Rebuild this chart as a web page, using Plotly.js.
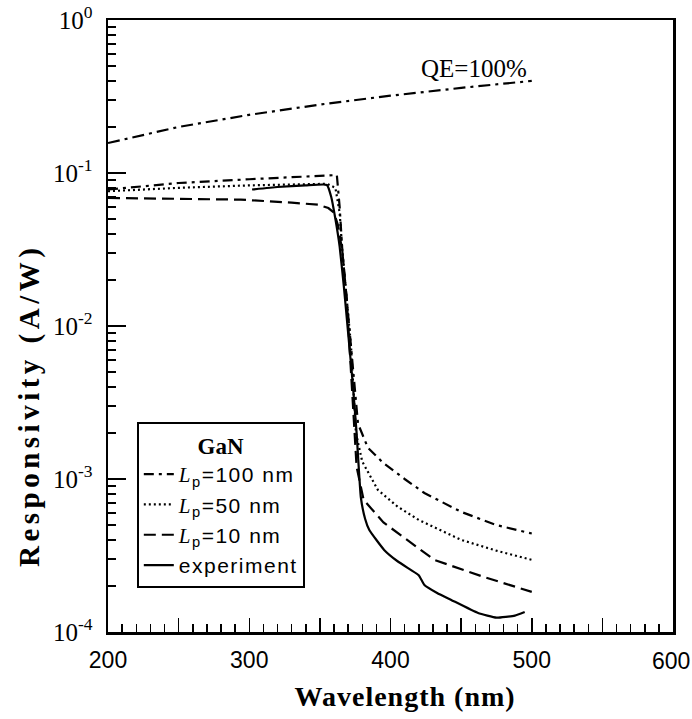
<!DOCTYPE html>
<html>
<head>
<meta charset="utf-8">
<script src="https://cdn.plot.ly/plotly-3.0.1.min.js"></script>
<style>
html,body{margin:0;padding:0;background:#fff;}
#chart{width:692px;height:719px;}
.legendtext{letter-spacing:1.5px;}
</style>
</head>
<body>
<div id="chart"></div>
<script>
// Quantum efficiency = 100% reference line
const qeWavelength = [200, 250, 300, 350, 400, 450, 500];
const qeResp = [0.157, 0.200, 0.240, 0.280, 0.320, 0.360, 0.400];

// Lp = 100 nm (dash-dot)
const lp100Wavelength = [200, 225, 250, 300, 340, 362, 364, 366, 369, 372, 375, 377, 384, 395, 410, 424, 450, 475, 500];
const lp100Resp = [0.078, 0.082, 0.086, 0.091, 0.095, 0.097, 0.060, 0.030, 0.015, 0.0075, 0.0035, 0.0023, 0.0016, 0.00127, 0.0010, 0.00081, 0.00061, 0.00050, 0.00044];

// Lp = 50 nm (dotted)
const lp50Wavelength = [200, 250, 300, 355, 361, 364, 366, 369, 372, 375.5, 380, 391, 405, 420, 450, 475, 500];
const lp50Resp = [0.076, 0.080, 0.083, 0.085, 0.080, 0.055, 0.030, 0.015, 0.0075, 0.0020, 0.0013, 0.00085, 0.00066, 0.00054, 0.00040, 0.00034, 0.000296];

// Lp = 10 nm (dashed)
const lp10Wavelength = [200, 250, 294, 330, 349, 356, 360, 363, 366, 369, 372, 374, 376, 381, 395, 431, 466, 500];
const lp10Resp = [0.0687, 0.068, 0.067, 0.064, 0.062, 0.059, 0.055, 0.045, 0.030, 0.015, 0.0050, 0.0022, 0.0012, 0.00073, 0.00052, 0.000296, 0.000229, 0.000183];

// Experiment (solid)
const expWavelength = [302, 320, 340, 355, 358, 361, 364, 367, 370, 373, 376, 379, 382, 385, 395.5, 405, 414.6, 420, 424, 433, 443, 462, 475, 488, 495];
const expResp = [0.078, 0.081, 0.083, 0.0835, 0.070, 0.050, 0.033, 0.018, 0.009, 0.0045, 0.0020, 0.00076, 0.00055, 0.000464, 0.000344, 0.00029, 0.000254, 0.000235, 0.000203, 0.00018, 0.000162, 0.000133, 0.000124, 0.000128, 0.000135];

// Axis ticks
const xTickVals = [200, 250, 300, 350, 400, 450, 500, 550, 600];
const xTickText = ["200", "", "300", "", "400", "", "500", "", ""];
const xEdgeLabel = "600";
const yTickVals = [1e-4, 1e-3, 1e-2, 1e-1, 1];
const yTickText = ["10<sup>-4</sup>", "10<sup>-3</sup>", "10<sup>-2</sup>", "10<sup>-1</sup>", "10<sup>0</sup>"];

const serif = '"Liberation Serif", "Times New Roman", serif';
const sans = '"Liberation Sans", Arial, sans-serif';
const Lsub = (v) => '<span style="font-family:Liberation Serif"><i>L</i></span><sub>p</sub>=' + v + ' nm';

const traces = [
  {x: qeWavelength, y: qeResp, mode: 'lines', showlegend: false,
   line: {color: '#000', width: 2.2, dash: '12px,5px,3px,5px'}},
  {x: lp100Wavelength, y: lp100Resp, mode: 'lines', name: Lsub(100),
   line: {color: '#000', width: 2.2, dash: '10px,5px,3px,5px'}},
  {x: lp50Wavelength, y: lp50Resp, mode: 'lines', name: Lsub(50),
   line: {color: '#000', width: 2.2, dash: '2px,3px'}},
  {x: lp10Wavelength, y: lp10Resp, mode: 'lines', name: Lsub(10),
   line: {color: '#000', width: 2.2, dash: '12px,6px'}},
  {x: expWavelength, y: expResp, mode: 'lines', name: 'experiment',
   line: {color: '#000', width: 2.2, shape: 'spline', smoothing: 0.4}}
];

const layout = {
  width: 692, height: 719,
  paper_bgcolor: '#fff', plot_bgcolor: '#fff',
  margin: {l: 108, r: 19, t: 20, b: 87},
  font: {family: sans, color: '#000', size: 21},
  showlegend: true,
  legend: {
    x: 0.051, y: 0.343, xanchor: 'left', yanchor: 'top',
    bgcolor: '#fff', bordercolor: '#000', borderwidth: 2,
    font: {family: sans, size: 21, color: '#000'},
    title: {text: '<b>GaN</b>', side: 'top center', font: {family: serif, size: 23, color: '#000'}},
    tracegroupgap: 0
  },
  xaxis: {
    range: [200, 600], showgrid: false, zeroline: false,
    showline: true, linecolor: '#000', linewidth: 2.5, mirror: true,
    ticks: 'inside', ticklen: 14, tickwidth: 1.5, tickcolor: '#000',
    tickmode: 'array', tickvals: xTickVals, ticktext: xTickText,
    tickfont: {family: sans, size: 23, color: '#000'},
    ticklabelstandoff: 6,
    minor: {dtick: 10, ticks: 'inside', ticklen: 8, tickwidth: 1.5, tickcolor: '#000', showgrid: false}
  },
  yaxis: {
    type: 'log', range: [-4, 0], showgrid: false, zeroline: false,
    showline: true, linecolor: '#000', linewidth: 2.5, mirror: true,
    ticks: 'inside', ticklen: 18, tickwidth: 2, tickcolor: '#000',
    tickmode: 'array', tickvals: yTickVals, ticktext: yTickText,
    tickfont: {family: serif, size: 25, color: '#000'},
    ticklabelstandoff: 8,
    minor: {ticks: 'inside', ticklen: 8, tickwidth: 2, tickcolor: '#000', showgrid: false, dtick: 'D1'}
  },
  annotations: [
    {x: 459, y: -0.314, xref: 'x', yref: 'y', text: 'QE=100%', showarrow: false,
     font: {family: serif, size: 25, color: '#000'}},
    {x: 410, y: -0.105, xref: 'x', yref: 'paper', text: '<b>Wavelength (nm)</b>', showarrow: false,
     xanchor: 'center', yanchor: 'middle',
     font: {family: serif, size: 28, color: '#000'}},
    {x: 0, y: 0.37, xref: 'paper', yref: 'paper', xshift: -78, text: '<b>Responsivity (A/W)</b>', showarrow: false,
     textangle: -90, xanchor: 'center', yanchor: 'middle',
     font: {family: serif, size: 29, color: '#000'}},
    {x: 600, y: 0, xref: 'x', yref: 'paper', yanchor: 'top', yshift: -14, xshift: -2, text: xEdgeLabel, showarrow: false,
     font: {family: sans, size: 23, color: '#000'}}
  ]
};

Plotly.newPlot('chart', traces, layout, {displayModeBar: false, staticPlot: true}).then(function () {
  const texts = document.querySelectorAll('.annotation-text');
  texts.forEach(function (t) {
    const s = t.textContent;
    if (s.indexOf('Responsivity') >= 0) t.style.letterSpacing = '4.5px';
    else if (s.indexOf('Wavelength') >= 0) t.style.letterSpacing = '1px';
  });
});
</script>
</body>
</html>
